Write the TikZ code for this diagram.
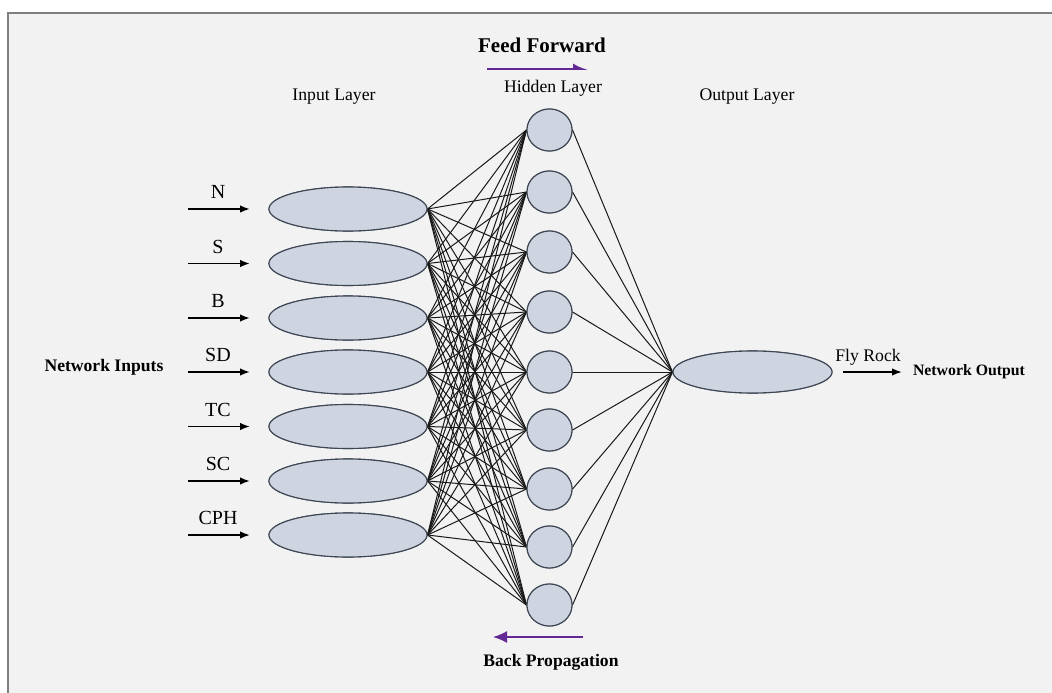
\documentclass[tikz,border=0pt]{standalone}
\usepackage{fontspec}
\setmainfont{Liberation Serif}
\usetikzlibrary{arrows.meta,shapes.geometric}
\definecolor{bgpanel}{HTML}{F2F2F2}
\definecolor{framegray}{HTML}{7F7F7F}
\definecolor{nodefill}{RGB}{206,213,225}
\definecolor{nodeedge}{RGB}{62,70,84}
\definecolor{arrowpurple}{RGB}{98,40,148}
\tikzset{
  inunit/.style={ellipse, draw=nodeedge, fill=nodefill, line width=1.1pt,
    minimum width=158pt, minimum height=44pt, inner sep=0pt},
  hidunit/.style={ellipse, draw=nodeedge, fill=nodefill, line width=1.1pt,
    minimum width=45pt, minimum height=42pt, inner sep=0pt},
  outunit/.style={ellipse, draw=nodeedge, fill=nodefill, line width=1.1pt,
    minimum width=159pt, minimum height=42pt, inner sep=0pt},
  wire/.style={draw=black!90, line width=1pt},
  feedarrow/.style={-{Latex[length=10pt,width=7.5pt]}, line width=1.6pt},
  purplearrow/.style={draw=arrowpurple, line width=1.7pt},
  lbl/.style={inner sep=0pt, font=\fontsize{17.7}{20}\selectfont},
  varlbl/.style={inner sep=0pt, font=\fontsize{20}{23}\selectfont},
  boldlbl/.style={inner sep=0pt, font=\fontsize{17.6}{20}\selectfont\bfseries},
}
\begin{document}
\begin{tikzpicture}[x=1pt,y=-1pt]
\useasboundingbox (0,0) rectangle (1052,693);
\fill[white] (0,0) rectangle (1052,693);
\fill[bgpanel] (8,13) rectangle (1052,693);
\draw[framegray, line width=2pt] (8,693) -- (8,13) -- (1052,13);

% titles
\node[lbl] (tin) at (334,97) {Input Layer};
\node[lbl] (thid) at (553,88) {Hidden Layer};
\node[lbl] (tout) at (747,97) {Output Layer};
\node[boldlbl, font=\fontsize{21}{24}\selectfont\bfseries] (tff) at (542,45) {Feed Forward};
\node[boldlbl] (tbp) at (551,662) {Back Propagation};
\node[boldlbl] (tni) at (104,367) {Network Inputs};
\node[boldlbl, font=\fontsize{15.8}{18}\selectfont\bfseries] (tno) at (969,372) {Network Output};

% input layer
\foreach \i/\y/\t in {1/209/N,2/263.5/S,3/318/B,4/372/SD,5/426.5/TC,6/481/SC,7/535/CPH}{
  \node[inunit] (in\i) at (348,\y) {};
  \coordinate (src\i) at (188,\y);
  \node[varlbl] (lab\i) at (218,\y-17) {\t};
}

% hidden layer
\foreach \j/\y in {1/130,2/192,3/252,4/312,5/372,6/430,7/489,8/547,9/605}{
  \node[hidunit] (h\j) at (549.5,\y) {};
}

% output layer
\node[outunit] (out) at (752.5,372) {};

% connections
\foreach \i in {1,...,7}{
  \foreach \j in {1,...,9}{
    \draw[wire] (in\i.east) -- (h\j.west);
  }
}
\foreach \j in {1,...,9}{
  \draw[wire] (h\j.east) -- (out.west);
}
\foreach \j in {1,...,9}{
  \node[hidunit] at (h\j) {};
}
\foreach \i in {1,...,7}{
  \node[inunit] at (in\i) {};
  \draw[feedarrow] (src\i) -- (in\i.west -| 250,0);
}
\node[outunit] at (out) {};

% output arrow
\node[lbl] (tfly) at (868,357) {Fly Rock};
\coordinate (oa1) at (843,372);
\coordinate (oa2) at (902,372);
\draw[feedarrow] (oa1) -- (oa2);

% purple arrows
\coordinate (ff1) at (487,69);
\coordinate (ff2) at (588,69);
\draw[purplearrow, -{Latex[harpoon,length=12pt,width=11pt]}] (ff1) -- (ff2);
\coordinate (bp1) at (583,637);
\coordinate (bp2) at (493,637);
\draw[purplearrow, -{Latex[length=14pt,width=12pt]}] (bp1) -- (bp2);
\end{tikzpicture}
\end{document}
